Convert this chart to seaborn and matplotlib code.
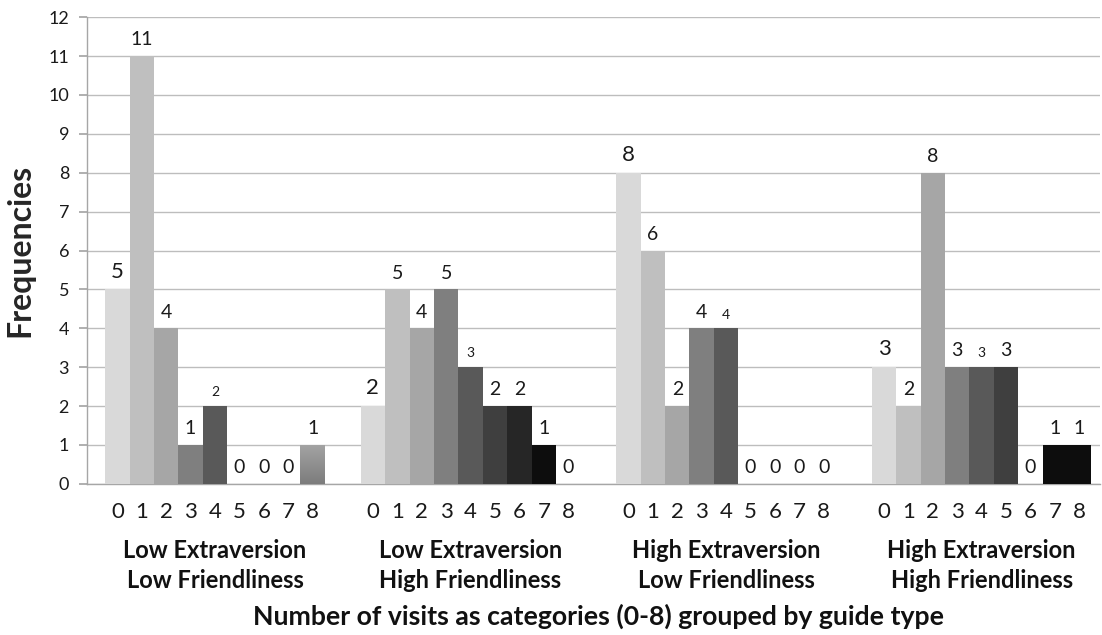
import numpy as np
import pandas as pd
import matplotlib
matplotlib.use("Agg")
import matplotlib.pyplot as plt
import seaborn as sns

# Frequencies of the number of visits (0-8) for each guide type
visits = [0, 1, 2, 3, 4, 5, 6, 7, 8]
guide_types = [
    "Low Extraversion\nLow Friendliness",
    "Low Extraversion\nHigh Friendliness",
    "High Extraversion\nLow Friendliness",
    "High Extraversion\nHigh Friendliness",
]
low_ext_low_fr = [5, 11, 4, 1, 2, 0, 0, 0, 1]
low_ext_high_fr = [2, 5, 4, 5, 3, 2, 2, 1, 0]
high_ext_low_fr = [8, 6, 2, 4, 4, 0, 0, 0, 0]
high_ext_high_fr = [3, 2, 8, 3, 3, 3, 0, 1, 1]
series = [low_ext_low_fr, low_ext_high_fr, high_ext_low_fr, high_ext_high_fr]

# grey ramp, one shade per visit category
shades = ["#d9d9d9", "#bfbfbf", "#a6a6a6", "#7f7f7f", "#595959",
          "#3f3f3f", "#262626", "#0d0d0d", "#0d0d0d"]

group_step = 10.47
rows = []
for g, vals in enumerate(series):
    for c, v in zip(visits, vals):
        rows.append({"pos": g * group_step + c, "visit": str(c), "count": v, "group": g})
df = pd.DataFrame(rows)

sns.set_theme(style="white")
plt.rcParams["font.family"] = ["Lato", "DejaVu Sans"]

fig = plt.figure(figsize=(11.02, 6.35), dpi=100)
ax = fig.add_axes([0.079, 0.238, 0.919, 0.735])

sns.barplot(data=df, x="pos", y="count", hue="visit",
            palette=dict(zip([str(v) for v in visits], shades)),
            native_scale=True, dodge=False, width=1.0, linewidth=0,
            legend=False, ax=ax, zorder=3)

# shaded fill for the single visit-8 bar of the first group
for p in ax.patches:
    x0 = p.get_x()
    if abs(x0 + p.get_width() / 2 - 8) < 0.01 and p.get_height() > 0:
        p.set_facecolor("none")
        grad = np.linspace(0, 1, 100).reshape(-1, 1)
        cmap = matplotlib.colors.LinearSegmentedColormap.from_list("g", ["#7c7c7c", "#a3a3a3"])
        im = ax.imshow(grad, cmap=cmap, aspect="auto", origin="lower",
                       extent=[x0, x0 + p.get_width(), 0, p.get_height()], zorder=3)
        im.set_clip_path(p)

ax.set_xlim(-1.24, 3 * group_step + 8.84)
ax.set_ylim(0, 12)
ax.set_yticks(range(0, 13))
ax.yaxis.grid(True, color="#bdbdbd", linewidth=1.0, zorder=0)
ax.xaxis.grid(False)
for side in ["top", "right"]:
    ax.spines[side].set_visible(False)
for side in ["left", "bottom"]:
    ax.spines[side].set_color("#a6a6a6")
    ax.spines[side].set_linewidth(1.0)
ax.tick_params(axis="y", left=True, length=6, color="#a6a6a6", labelsize=13,
               labelcolor="#1a1a1a", pad=7)

# category ticks under each bar
ax.set_xticks(df["pos"].values)
ax.set_xticklabels(df["visit"].values, fontsize=16, color="#1a1a1a")
ax.tick_params(axis="x", bottom=False, pad=7)

# value labels above the bars
size_for = {0: 16, 4: 10}
for _, r in df.iterrows():
    c = int(r["visit"])
    ax.text(r["pos"], r["count"] + 0.2, f"{int(r['count'])}", ha="center", va="bottom",
            fontsize=size_for.get(c, 14), color="#1a1a1a", zorder=4)

# guide type names beneath each group
for g, name in enumerate(guide_types):
    ax.text(g * group_step + 4, -1.42, name, ha="center", va="top",
            fontsize=17, fontweight="bold", linespacing=1.36,
            transform=ax.transData, color="#111111")

ax.set_xlabel("")
ax.set_ylabel("Frequencies", fontsize=23, fontweight="bold", labelpad=10)
fig.text(0.543, 0.029, "Number of visits as categories (0-8) grouped by guide type",
         ha="center", va="center", fontsize=19.2, fontweight="bold", color="#111111")

fig.savefig("out.png", dpi=100, facecolor="white")
